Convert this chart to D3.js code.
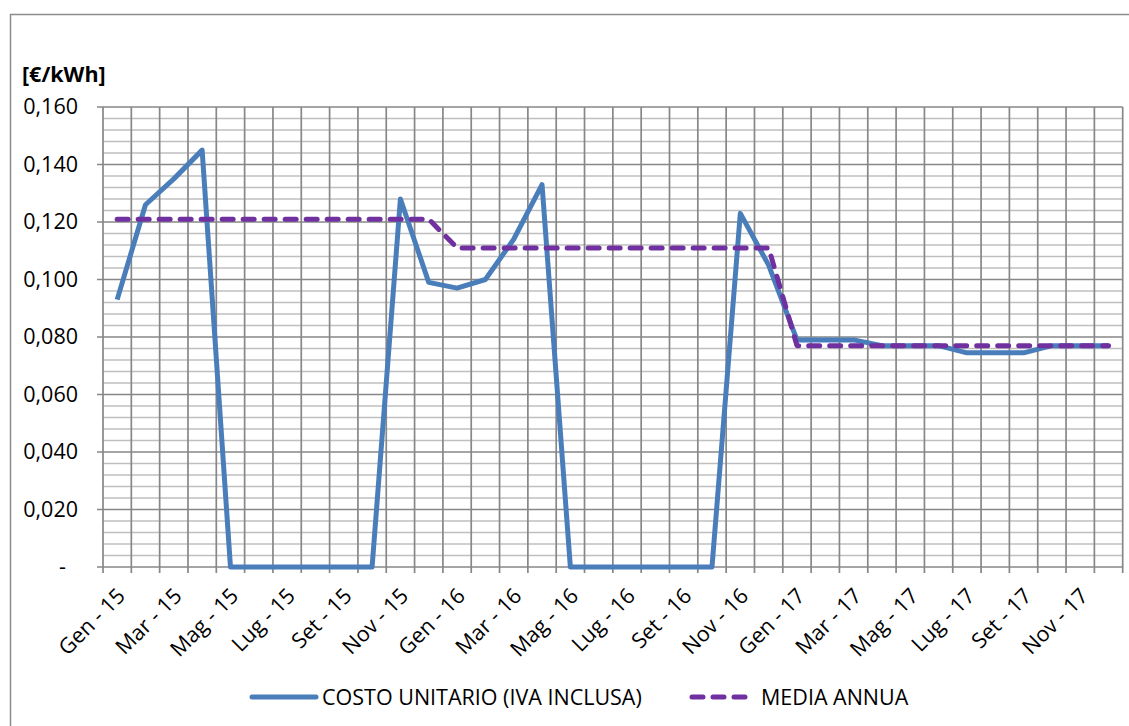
<!DOCTYPE html>
<html>
<head>
<meta charset="utf-8">
<script src="https://cdn.jsdelivr.net/npm/d3@7"></script>
<style>
  html, body { margin: 0; padding: 0; background: #fff; }
  svg { display: block; }
  text { font-family: "Open Sans", sans-serif; fill: #000; }
</style>
</head>
<body>
<svg id="chart" width="1129" height="726"></svg>
<script>
// ---- data ----
const monthNames = ["Gen", "Feb", "Mar", "Apr", "Mag", "Giu", "Lug", "Ago", "Set", "Ott", "Nov", "Dic"];
const years = ["15", "16", "17"];
const categories = years.flatMap(y => monthNames.map(m => m + " - " + y));
const costoUnitario = [
  0.093, 0.126, 0.135, 0.145, 0, 0, 0, 0, 0, 0, 0.128, 0.099,
  0.097, 0.100, 0.114, 0.133, 0, 0, 0, 0, 0, 0, 0.123, 0.105,
  0.079, 0.079, 0.079, 0.077, 0.077, 0.077, 0.0745, 0.0745, 0.0745, 0.077, 0.077, 0.077
];
const mediaAnnua = [
  0.121, 0.121, 0.121, 0.121, 0.121, 0.121, 0.121, 0.121, 0.121, 0.121, 0.121, 0.121,
  0.111, 0.111, 0.111, 0.111, 0.111, 0.111, 0.111, 0.111, 0.111, 0.111, 0.111, 0.111,
  0.077, 0.077, 0.077, 0.077, 0.077, 0.077, 0.077, 0.077, 0.077, 0.077, 0.077, 0.077
];
const yTicks = [0, 0.02, 0.04, 0.06, 0.08, 0.10, 0.12, 0.14, 0.16];
const seriesNames = ["COSTO UNITARIO (IVA INCLUSA)", "MEDIA ANNUA"];
const unitLabel = "[€/kWh]";

// ---- layout ----
const svg = d3.select("#chart");
const plotLeft = 103, plotRight = 1122.7, plotTop = 107, plotBottom = 567;
const blue = "#4A7EBB", purple = "#7030A0";
const gridDark = "#878787", gridLight = "#bfbfbf";
const fs = 21.5;

// outer frame
svg.append("rect").attr("x", 10.5).attr("y", 14.5).attr("width", 1130).attr("height", 730)
  .attr("fill", "#fff").attr("stroke", "#8c8c8c").attr("stroke-width", 1.5);

const x = d3.scaleBand().domain(categories).range([plotLeft, plotRight]).paddingInner(0).paddingOuter(0);
const y = d3.scaleLinear().domain([0, 0.16]).range([plotBottom, plotTop]);
const cx = d => x(d) + x.bandwidth() / 2;

// minor horizontal gridlines
const minor = d3.range(0, 41).map(i => i * 0.004).filter(v => !yTicks.some(t => Math.abs(t - v) < 1e-9));
svg.append("g").selectAll("line").data(minor).join("line")
  .attr("x1", plotLeft).attr("x2", plotRight)
  .attr("y1", d => y(d)).attr("y2", d => y(d))
  .attr("stroke", gridLight).attr("stroke-width", 1.7);

// vertical gridlines at category boundaries (with tick below axis)
const bounds = categories.map(c => x(c)).concat([plotRight]);
svg.append("g").selectAll("line").data(bounds).join("line")
  .attr("x1", d => d).attr("x2", d => d)
  .attr("y1", plotTop).attr("y2", plotBottom + 6)
  .attr("stroke", gridDark).attr("stroke-width", 1.7);

// major horizontal gridlines
svg.append("g").selectAll("line").data(yTicks).join("line")
  .attr("x1", plotLeft - 6).attr("x2", plotRight)
  .attr("y1", d => y(d)).attr("y2", d => y(d))
  .attr("stroke", gridDark).attr("stroke-width", 1.7);

// y axis labels
const fmt = v => v === 0 ? "-" : d3.format(".3f")(v).replace(".", ",");
const yAxis = d3.axisLeft(y).tickValues(yTicks).tickFormat(fmt).tickSize(0).tickPadding(0);
const gy = svg.append("g").attr("transform", `translate(78,0)`).call(yAxis);
gy.select(".domain").remove();
gy.selectAll("text").attr("font-size", fs).attr("font-family", "'Open Sans', sans-serif").attr("fill", "#000")
  .attr("x", d => d === 0 ? -12 : 0);

// x axis labels (every other month)
const xLabels = categories.filter((c, i) => i % 2 === 0);
svg.append("g").selectAll("text").data(xLabels).join("text")
  .attr("transform", d => `translate(${cx(d) + 4},592) rotate(-45)`)
  .attr("text-anchor", "end").attr("dy", "0.35em")
  .attr("font-size", fs)
  .text(d => d);

// unit label
svg.append("text").attr("x", 22).attr("y", 82).attr("font-size", fs).attr("font-weight", "bold").text(unitLabel);

// series lines
const line = d3.line().x((d, i) => cx(categories[i])).y(d => y(d));
svg.append("path").datum(costoUnitario).attr("d", line)
  .attr("fill", "none").attr("stroke", blue).attr("stroke-width", 5).attr("stroke-linejoin", "round");
svg.append("path").datum(mediaAnnua).attr("d", line)
  .attr("fill", "none").attr("stroke", purple).attr("stroke-width", 5)
  .attr("stroke-dasharray", "11,10").attr("stroke-linecap", "round").attr("stroke-linejoin", "round");

// legend
const ly = 697;
svg.append("line").attr("x1", 252).attr("x2", 316).attr("y1", ly).attr("y2", ly)
  .attr("stroke", blue).attr("stroke-width", 5).attr("stroke-linecap", "round");
svg.append("text").attr("x", 322).attr("y", ly).attr("dy", "0.35em").attr("font-size", fs).text(seriesNames[0]);
svg.append("line").attr("x1", 692).attr("x2", 752).attr("y1", ly).attr("y2", ly)
  .attr("stroke", purple).attr("stroke-width", 5).attr("stroke-linecap", "round").attr("stroke-dasharray", "11,10");
svg.append("text").attr("x", 761).attr("y", ly).attr("dy", "0.35em").attr("font-size", fs).text(seriesNames[1]);
</script>
</body>
</html>
